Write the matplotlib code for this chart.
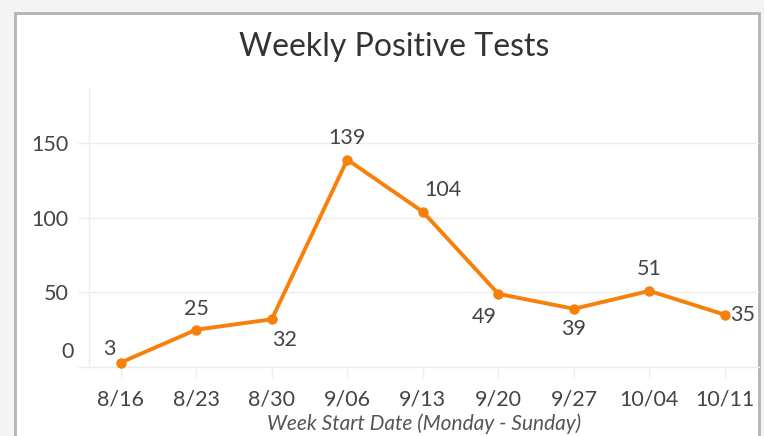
import matplotlib
matplotlib.use("Agg")
import matplotlib.pyplot as plt
from matplotlib.patches import Rectangle

weeks = ["8/16", "8/23", "8/30", "9/06", "9/13", "9/20", "9/27", "10/04", "10/11"]
positives = [3, 25, 32, 139, 104, 49, 39, 51, 35]
yticks = [0, 50, 100, 150]
# label centre offsets (pixels) relative to each marker
label_offsets_px = [(-11, 14), (0, 21), (13, -21), (0, 22), (20, 22), (-14, -23), (0, -20), (0, 22), (18, 0)]

FONT = ["Lato", "DejaVu Sans"]
plt.rcParams["font.family"] = FONT
ORANGE = "#f7800a"
GRID = "#ededed"
TXT = "#444444"

W, H, DPI = 764, 436, 100
PX2PT = 72.0 / DPI
fig = plt.figure(figsize=(W / DPI, H / DPI), dpi=DPI, facecolor="#f4f4f4")

# white panel with grey border
panel = Rectangle((15 / W, -0.1), (759 - 15) / W, (H - 13) / H + 0.1,
                  transform=fig.transFigure, facecolor="white",
                  edgecolor="#b4b4b4", linewidth=2, zorder=-10)
fig.patches.append(panel)

ax = fig.add_axes([89 / W, 1 - 367 / H, (759 - 89) / W, (367 - 88) / H])
ax.set_facecolor("none")
ax.set_zorder(1)

x = list(range(len(weeks)))
ax.plot(x, positives, color=ORANGE, linewidth=2.8, marker="o", markersize=6.5,
        clip_on=False, zorder=3)

for xi, v, (dx, dy) in zip(x, positives, label_offsets_px):
    ax.annotate(str(v), xy=(xi, v), xytext=(dx * PX2PT, dy * PX2PT),
                textcoords="offset points", ha="center", va="center",
                fontsize=15.5, color=TXT, zorder=4)

ax.set_xlim(-0.42, 8.45)
ax.set_ylim(0, 187)
ax.set_xticks(x)
ax.set_xticklabels(weeks, fontsize=15.5, color=TXT)
ax.set_yticks(yticks)
ax.set_yticklabels(["" if t == 0 else str(t) for t in yticks], fontsize=15.5, color=TXT)
ax.annotate("0", xy=(0, 0), xycoords=("axes fraction", "data"),
            xytext=(-15 * PX2PT, 15 * PX2PT), textcoords="offset points",
            ha="right", va="center", fontsize=15.5, color=TXT)

ax.grid(axis="y", color=GRID, linewidth=1)
ax.grid(axis="x", visible=False)
for s in ["top", "right"]:
    ax.spines[s].set_visible(False)
for s in ["left", "bottom"]:
    ax.spines[s].set_color(GRID)
    ax.spines[s].set_linewidth(1)
ax.tick_params(axis="both", colors=GRID, length=8, width=1, labelcolor=TXT)
ax.tick_params(axis="x", pad=8)
ax.tick_params(axis="y", pad=7)

ax.set_xlabel("Week Start Date (Monday - Sunday)", fontsize=15, style="italic",
              color="#555555", labelpad=3)

fig.text(394 / W, 1 - 47 / H, "Weekly Positive Tests", ha="center", va="center",
         fontsize=23, color="#333333")

fig.savefig("out.png", dpi=DPI, facecolor=fig.get_facecolor())
